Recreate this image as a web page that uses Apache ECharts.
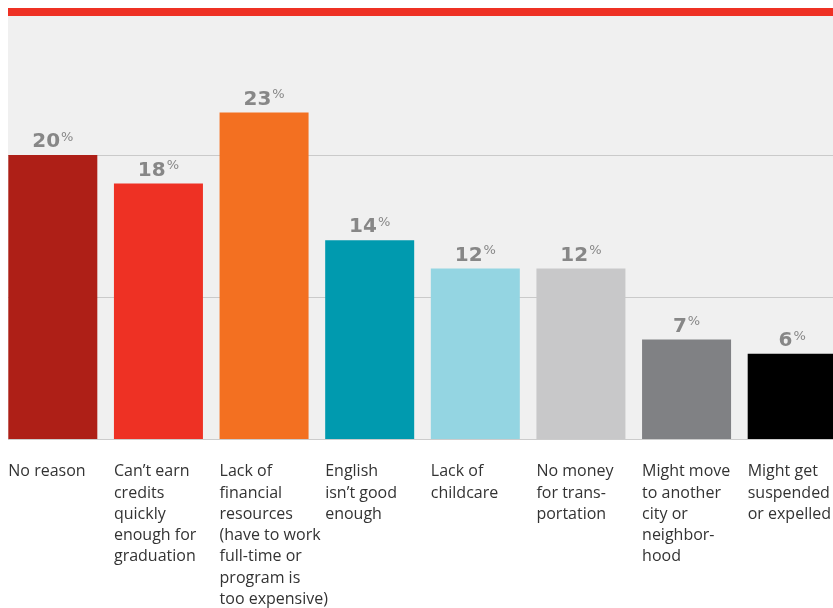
<!DOCTYPE html>
<html>
<head>
<meta charset="utf-8">
<script src="https://cdn.jsdelivr.net/npm/echarts@6/dist/echarts.min.js"></script>
<style>html,body{margin:0;padding:0;background:#fff}#c{width:833px;height:608px}</style>
</head>
<body>
<div id="c"></div>
<script>
const categories = [
  "No reason",
  "Can\u2019t earn\ncredits\nquickly\nenough for\ngraduation",
  "Lack of\nfinancial\nresources\n(have to work\nfull-time or\nprogram is\ntoo expensive)",
  "English\nisn\u2019t good\nenough",
  "Lack of\nchildcare",
  "No money\nfor trans-\nportation",
  "Might move\nto another\ncity or\nneighbor-\nhood",
  "Might get\nsuspended\nor expelled"
];
const values = [20, 18, 23, 14, 12, 12, 7, 6];
const barColors = ["#ae1f17", "#ee3124", "#f37021", "#009aaf", "#94d5e2", "#c8c8c9", "#808184", "#000000"];
const yTicks = [0, 10, 20, 30];

const chart = echarts.init(document.getElementById('c'), null, {renderer: 'canvas'});
chart.setOption({
  animation: false,
  grid: {left: 0, top: 13, width: 845, height: 426, show: true, backgroundColor: '#f0f0f0', borderWidth: 0,
         containLabel: false, outerBoundsMode: 'none'},
  xAxis: {
    type: 'category', data: categories,
    axisLine: {show: true, lineStyle: {color: '#cccccc', width: 1}},
    axisTick: {show: false}, axisLabel: {show: false}
  },
  yAxis: {
    type: 'value', min: yTicks[0], max: yTicks[yTicks.length - 1], interval: 10,
    axisLine: {show: false}, axisTick: {show: false}, axisLabel: {show: false},
    splitLine: {show: true, lineStyle: {color: '#cacaca', width: 1}}
  },
  series: [
    {
      type: 'bar', barWidth: 89,
      data: values.map((v, i) => ({value: v, itemStyle: {color: barColors[i]}})),
      label: {
        show: true, position: 'top', distance: 3,
        formatter: p => '{n|' + p.value + '}{p|%}',
        rich: {
          n: {fontFamily: 'DejaVu Sans', fontWeight: 'bold', fontSize: 20, color: '#878787', lineHeight: 20},
          p: {fontFamily: 'DejaVu Sans', fontWeight: 'normal', fontSize: 13, color: '#878787', lineHeight: 20, padding: [0, 0, 9, 1]}
        }
      }
    },
    {
      type: 'bar', barWidth: 89, barGap: '-100%', silent: true,
      data: values,
      itemStyle: {color: 'rgba(0,0,0,0)'},
      label: {
        show: true, position: [0, '100%'], offset: [0, 22], align: 'left', verticalAlign: 'top',
        formatter: '{b}', fontFamily: 'Open Sans', fontSize: 16, lineHeight: 21.3, color: '#333333'
      }
    }
  ],
  graphic: [
    {type: 'rect', shape: {x: 0, y: 0, width: 8, height: 608}, style: {fill: '#ffffff'}, z: 100},
    {type: 'rect', shape: {x: 8, y: 8, width: 825, height: 8}, style: {fill: '#ee3124'}, z: 100}
  ]
});
</script>
</body>
</html>
